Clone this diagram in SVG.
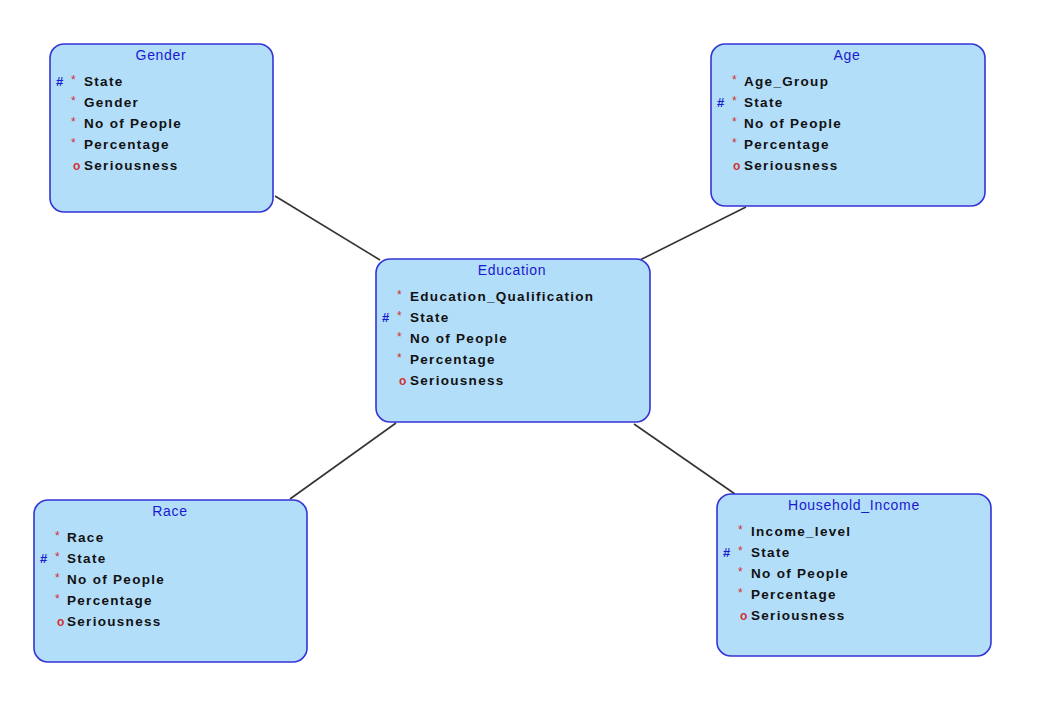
<svg xmlns="http://www.w3.org/2000/svg" width="1056" height="717" viewBox="0 0 1056 717">
<style>
.box{fill:#b3defa;stroke:#3434d6;stroke-width:1.6}
.title{font-family:"Liberation Sans",Arial,sans-serif;font-size:14px;fill:#1a1ad0;text-anchor:middle;letter-spacing:0.7px}
.attr{font-family:"Liberation Sans",Arial,sans-serif;font-size:13.5px;font-weight:bold;fill:#111;letter-spacing:1.3px}
.star{font-family:"Liberation Sans",Arial,sans-serif;font-size:12px;fill:#d03030}
.opt{font-family:"Liberation Sans",Arial,sans-serif;font-size:12px;font-weight:bold;fill:#d03030}
.pk{font-family:"Liberation Sans",Arial,sans-serif;font-size:13px;font-weight:bold;fill:#1a1ad0}
.conn{stroke:#333;stroke-width:1.6;fill:none}
</style>
<rect width="1056" height="717" fill="#fff"/>
<g id="connectors">
<line class="conn" x1="275" y1="196" x2="380" y2="260"/>
<line class="conn" x1="746" y1="207" x2="640" y2="260"/>
<line class="conn" x1="290" y1="499" x2="396" y2="423"/>
<line class="conn" x1="634" y1="424" x2="735" y2="494"/>
</g>
<g id="gender">
<rect class="box" x="50" y="44" width="223" height="168" rx="14"/>
<text class="title" x="161" y="60">Gender</text>
<text class="pk" x="56" y="86">#</text>
<text class="star" x="71" y="84">*</text><text class="attr" x="84" y="86">State</text>
<text class="star" x="71" y="105">*</text><text class="attr" x="84" y="107">Gender</text>
<text class="star" x="71" y="126">*</text><text class="attr" x="84" y="128">No of People</text>
<text class="star" x="71" y="147">*</text><text class="attr" x="84" y="149">Percentage</text>
<text class="opt" x="73" y="170">o</text><text class="attr" x="84" y="170">Seriousness</text>
</g>
<g id="age">
<rect class="box" x="711" y="44" width="274" height="162" rx="14"/>
<text class="title" x="847" y="60">Age</text>
<text class="star" x="732" y="84">*</text><text class="attr" x="744" y="86">Age_Group</text>
<text class="pk" x="717" y="107">#</text>
<text class="star" x="732" y="105">*</text><text class="attr" x="744" y="107">State</text>
<text class="star" x="732" y="126">*</text><text class="attr" x="744" y="128">No of People</text>
<text class="star" x="732" y="147">*</text><text class="attr" x="744" y="149">Percentage</text>
<text class="opt" x="733" y="170">o</text><text class="attr" x="744" y="170">Seriousness</text>
</g>
<g id="education">
<rect class="box" x="376" y="259" width="274" height="163" rx="14"/>
<text class="title" x="512" y="275">Education</text>
<text class="star" x="397" y="299">*</text><text class="attr" x="410" y="301">Education_Qualification</text>
<text class="pk" x="382" y="322">#</text>
<text class="star" x="397" y="320">*</text><text class="attr" x="410" y="322">State</text>
<text class="star" x="397" y="341">*</text><text class="attr" x="410" y="343">No of People</text>
<text class="star" x="397" y="362">*</text><text class="attr" x="410" y="364">Percentage</text>
<text class="opt" x="399" y="385">o</text><text class="attr" x="410" y="385">Seriousness</text>
</g>
<g id="race">
<rect class="box" x="34" y="500" width="273" height="162" rx="14"/>
<text class="title" x="170" y="516">Race</text>
<text class="star" x="55" y="540">*</text><text class="attr" x="67" y="542">Race</text>
<text class="pk" x="40" y="563">#</text>
<text class="star" x="55" y="561">*</text><text class="attr" x="67" y="563">State</text>
<text class="star" x="55" y="582">*</text><text class="attr" x="67" y="584">No of People</text>
<text class="star" x="55" y="603">*</text><text class="attr" x="67" y="605">Percentage</text>
<text class="opt" x="57" y="626">o</text><text class="attr" x="67" y="626">Seriousness</text>
</g>
<g id="household_income">
<rect class="box" x="717" y="494" width="274" height="162" rx="14"/>
<text class="title" x="854" y="510">Household_Income</text>
<text class="star" x="738" y="534">*</text><text class="attr" x="751" y="536">Income_level</text>
<text class="pk" x="723" y="557">#</text>
<text class="star" x="738" y="555">*</text><text class="attr" x="751" y="557">State</text>
<text class="star" x="738" y="576">*</text><text class="attr" x="751" y="578">No of People</text>
<text class="star" x="738" y="597">*</text><text class="attr" x="751" y="599">Percentage</text>
<text class="opt" x="740" y="620">o</text><text class="attr" x="751" y="620">Seriousness</text>
</g>
</svg>
